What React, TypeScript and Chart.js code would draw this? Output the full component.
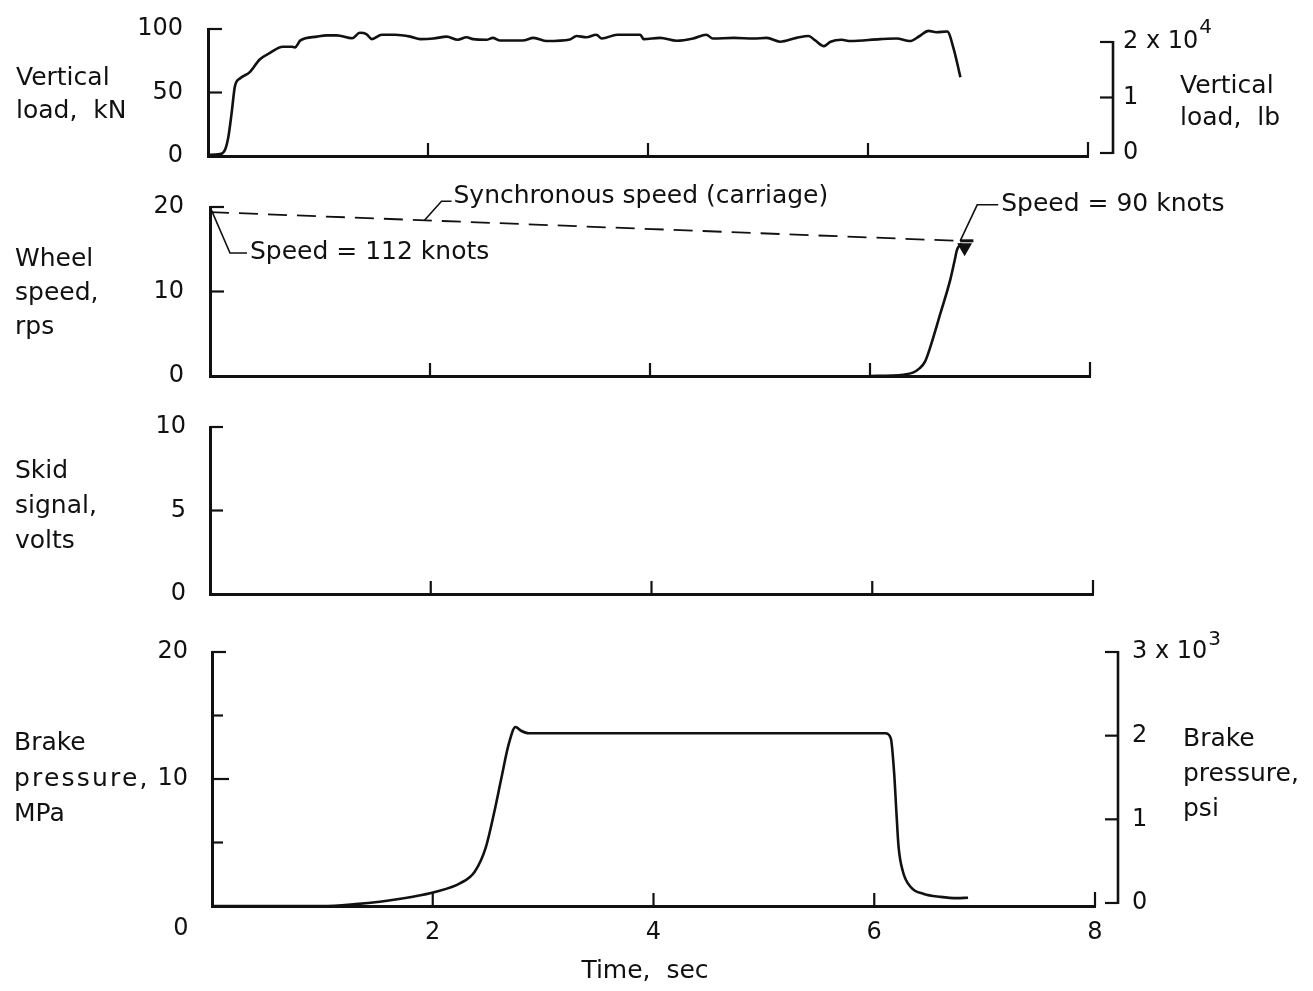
import React, { useEffect, useRef } from "react";
import { Chart, registerables } from "chart.js";
Chart.register(...registerables);

const W = 1313;
const H = 991;
const FONT = "'DejaVu Sans', 'Liberation Sans', sans-serif";
const INK = "#111";

// ---- shared time axis ----
const timeTicks = [0, 2, 4, 6, 8];
const timeTickLabels = ["", "2", "4", "6", "8"];

// ---- panel 1: vertical load ----
const loadTime = [0, 0.11, 0.155, 0.185, 0.215, 0.245, 0.29, 0.38, 0.47, 0.56, 0.68, 0.76, 0.79, 0.84, 0.99, 1.08, 1.17, 1.31, 1.38, 1.44, 1.49, 1.58, 1.7, 1.84, 1.93, 2.05, 2.17, 2.27, 2.35, 2.41, 2.53, 2.59, 2.65, 2.86, 2.96, 3.08, 3.29, 3.35, 3.44, 3.53, 3.58, 3.72, 3.93, 3.96, 4.11, 4.26, 4.41, 4.53, 4.59, 4.78, 4.96, 5.08, 5.2, 5.35, 5.46, 5.52, 5.6, 5.66, 5.76, 5.84, 6.11, 6.26, 6.38, 6.47, 6.55, 6.62, 6.72, 6.78, 6.84];
const loadKN = [1, 1.5, 5, 15, 34, 55, 61, 66, 76, 81, 86, 86, 85.5, 91, 94, 95, 95, 92.7, 97, 96, 92, 95.5, 95.5, 94, 92, 92.5, 94, 91.5, 93.5, 92, 91.5, 93, 91, 91, 93, 90.5, 91.7, 94.5, 93.5, 95.5, 92.5, 95.5, 95.5, 92, 93, 90.7, 92.5, 95.5, 92.5, 93, 92.5, 93, 90, 93, 94.5, 91, 86.5, 90, 91.5, 90.5, 92, 92.5, 90.5, 94.5, 98.5, 97.5, 98, 84, 62];
const loadTicksKN = [0, 50, 100];
const loadTicksLb = [0, 1, 2];
const loadTickLabelsLb = ["0", "1", "2 x 10"];

// ---- panel 2: wheel speed ----
const wheelTime = [6.0, 6.2, 6.3, 6.39, 6.45, 6.5, 6.55, 6.64, 6.73, 6.77, 6.79, 6.83];
const wheelRps = [0, 0.05, 0.15, 0.4, 0.9, 1.7, 3.5, 7.4, 11.4, 13.7, 14.9, 15.7];
const syncTime = [0, 6.79];
const syncRps = [19.4, 16.0];
const flagTime = [6.82, 6.94];
const flagRps = [16.0, 16.0];
const markerTime = [6.86];
const markerRps = [15.2];
const wheelTicks = [0, 10, 20];

// ---- panel 3: skid signal ----
const skidTicks = [0, 5, 10];

// ---- panel 4: brake pressure ----
const brakeTime = [0, 1.0, 1.3, 1.52, 1.82, 2.02, 2.25, 2.38, 2.48, 2.56, 2.62, 2.69, 2.75, 2.8, 2.87, 3.5, 4.5, 5.5, 6.1, 6.15, 6.18, 6.2, 6.22, 6.26, 6.33, 6.45, 6.6, 6.75, 6.85];
const brakeMPa = [0, 0, 0.15, 0.34, 0.73, 1.1, 1.8, 2.7, 4.6, 7.5, 10, 12.8, 14.1, 13.8, 13.6, 13.6, 13.6, 13.6, 13.6, 13.2, 10.5, 7.5, 4.7, 2.7, 1.5, 0.95, 0.72, 0.62, 0.65];
const brakeTicksMPa = [10, 20];
const brakeTicksPsi = [0, 1, 2, 3];
const brakeTickLabelsPsi = ["0", "1", "2", "3 x 10"];

type Area = { left: number; right: number; top: number; bottom: number };
type RightAxis = { min: number; max: number; ticks: number[]; labels: string[]; sup: string; lineX: number; tickLen: number; pad: number; supDy: number };
type Panel = {
  id: string;
  area: Area;
  yMin: number;
  yMax: number;
  yTicks: number[];
  yPad: number;
  yInward: { v: number; len: number }[];
  xInward: { v: number; len: number }[];
  datasets: any[];
  right?: RightAxis;
  xLabels?: boolean;
  xAxisHeight: number;
  extra?: (chart: any, ctx: CanvasRenderingContext2D) => void;
};

const pts = (xs: number[], ys: number[]) => xs.map((x, i) => ({ x, y: ys[i] }));
const lineDs = (data: any[], extra: any = {}) => ({
  data,
  borderColor: INK,
  backgroundColor: INK,
  borderWidth: 2.6,
  pointRadius: 0,
  fill: false,
  cubicInterpolationMode: "monotone",
  yAxisID: "y",
  ...extra,
});

function seg(ctx: CanvasRenderingContext2D, p: number[][]) {
  ctx.beginPath();
  ctx.moveTo(p[0][0], p[0][1]);
  for (let i = 1; i < p.length; i++) ctx.lineTo(p[i][0], p[i][1]);
  ctx.stroke();
}

function label(ctx: CanvasRenderingContext2D, s: string, x: number, y: number, size = 25) {
  ctx.font = `${size}px ${FONT}`;
  ctx.textAlign = "left";
  ctx.textBaseline = "middle";
  ctx.fillStyle = INK;
  ctx.fillText(s, x, y);
}

const wheelAnnotations = (chart: any, ctx: CanvasRenderingContext2D) => {
  const xs = chart.scales.x;
  const ys = chart.scales.y;
  ctx.lineWidth = 1.6;
  ctx.strokeStyle = INK;
  // Speed = 112 knots (start of synchronous line)
  const ax = xs.getPixelForValue(syncTime[0]);
  const ay = ys.getPixelForValue(syncRps[0]);
  seg(ctx, [[ax + 1, ay - 3], [ax + 20, ay + 41], [ax + 37, ay + 41]]);
  label(ctx, "Speed = 112 knots", ax + 40, ay + 40);
  // Synchronous speed (carriage)
  const st = 1.95;
  const sv = syncRps[0] + ((syncRps[1] - syncRps[0]) * (st - syncTime[0])) / (syncTime[1] - syncTime[0]);
  const bx = xs.getPixelForValue(st);
  const by = ys.getPixelForValue(sv);
  seg(ctx, [[bx, by], [bx + 17, by - 19], [bx + 27, by - 19]]);
  label(ctx, "Synchronous speed (carriage)", bx + 29, by - 24);
  // Speed = 90 knots
  const cx = xs.getPixelForValue(flagTime[0]);
  const cy = ys.getPixelForValue(flagRps[0]);
  seg(ctx, [[cx, cy], [cx + 17, cy - 36], [cx + 38, cy - 36]]);
  label(ctx, "Speed = 90 knots", cx + 41, cy - 36);
};

const brakeZero = (chart: any, ctx: CanvasRenderingContext2D) => {
  const xs = chart.scales.x;
  const a = chart.chartArea;
  ctx.font = `24px ${FONT}`;
  ctx.textAlign = "center";
  ctx.textBaseline = "middle";
  ctx.fillStyle = INK;
  ctx.fillText("0", xs.getPixelForValue(0) - 31, a.bottom + 23);
};

const stdX = [
  { v: 2, len: 13 },
  { v: 4, len: 13 },
  { v: 6, len: 13 },
  { v: 8, len: 14 },
];

const panels: Panel[] = [
  {
    id: "load",
    area: { left: 208, right: 1088, top: 29, bottom: 156 },
    yMin: 0,
    yMax: 100,
    yTicks: loadTicksKN,
    yPad: 25,
    yInward: [
      { v: 50, len: 14 },
      { v: 100, len: 14 },
    ],
    xInward: stdX,
    datasets: [lineDs(pts(loadTime, loadKN))],
    right: { min: -0.054, max: 2.234, ticks: loadTicksLb, labels: loadTickLabelsLb, sup: "4", lineX: 1113, tickLen: 13, pad: 35, supDy: -14 },
    xAxisHeight: 0,
  },
  {
    id: "wheel",
    area: { left: 210, right: 1090, top: 207, bottom: 376 },
    yMin: 0,
    yMax: 20,
    yTicks: wheelTicks,
    yPad: 26,
    yInward: [
      { v: 10, len: 14 },
      { v: 20, len: 14 },
    ],
    xInward: stdX,
    datasets: [
      lineDs(pts(syncTime, syncRps), { borderWidth: 1.8, borderDash: [19, 10], cubicInterpolationMode: "default", tension: 0 }),
      lineDs(pts(wheelTime, wheelRps)),
      lineDs(pts(flagTime, flagRps), { borderWidth: 3, tension: 0, cubicInterpolationMode: "default" }),
      lineDs(pts(markerTime, markerRps), { showLine: false, pointRadius: 6, pointStyle: "triangle", rotation: 180 }),
    ],
    xAxisHeight: 0,
    extra: wheelAnnotations,
  },
  {
    id: "skid",
    area: { left: 210, right: 1093, top: 427, bottom: 594 },
    yMin: 0,
    yMax: 10,
    yTicks: skidTicks,
    yPad: 24,
    yInward: [
      { v: 5, len: 13 },
      { v: 10, len: 13 },
    ],
    xInward: stdX,
    datasets: [],
    xAxisHeight: 0,
  },
  {
    id: "brake",
    area: { left: 212, right: 1095, top: 652, bottom: 906 },
    yMin: 0,
    yMax: 20,
    yTicks: brakeTicksMPa,
    yPad: 24,
    yInward: [
      { v: 5, len: 11 },
      { v: 10, len: 17 },
      { v: 15, len: 11 },
      { v: 20, len: 14 },
    ],
    xInward: stdX,
    datasets: [lineDs(pts(brakeTime, brakeMPa))],
    right: { min: -0.036, max: 3, ticks: brakeTicksPsi, labels: brakeTickLabelsPsi, sup: "3", lineX: 1118, tickLen: 13, pad: 37, supDy: -12 },
    xLabels: true,
    xAxisHeight: 60,
    extra: brakeZero,
  },
];

function buildConfig(p: Panel): any {
  const tickFont = { family: FONT, size: 24 };
  const scales: any = {
    x: {
      type: "linear",
      min: 0,
      max: 8,
      grid: { display: false, drawTicks: false },
      border: { display: true, color: INK, width: 3 },
      ticks: p.xLabels
        ? {
            display: true,
            padding: 12,
            color: INK,
            font: tickFont,
            maxRotation: 0,
            autoSkip: false,
            callback: (v: number) => timeTickLabels[timeTicks.indexOf(v)] ?? "",
          }
        : { display: false },
      afterBuildTicks: (s: any) => {
        s.ticks = timeTicks.map((value) => ({ value }));
      },
      afterFit: (s: any) => {
        s.height = p.xAxisHeight;
        s.paddingLeft = 0;
        s.paddingRight = 0;
      },
    },
    y: {
      type: "linear",
      position: "left",
      min: p.yMin,
      max: p.yMax,
      grid: { display: false, drawTicks: false },
      border: { display: true, color: INK, width: 3 },
      ticks: { padding: p.yPad, color: INK, font: tickFont, autoSkip: false },
      afterBuildTicks: (s: any) => {
        s.ticks = p.yTicks.map((value) => ({ value }));
      },
      afterFit: (s: any) => {
        s.width = p.area.left;
        s.paddingTop = 0;
        s.paddingBottom = 0;
      },
    },
  };
  if (p.right) {
    const r = p.right;
    scales.yR = {
      type: "linear",
      position: "right",
      min: r.min,
      max: r.max,
      grid: { display: false, drawTicks: false },
      border: { display: false },
      ticks: {
        padding: r.pad,
        color: INK,
        font: tickFont,
        autoSkip: false,
        callback: (v: number) => r.labels[r.ticks.indexOf(v)] ?? "",
      },
      afterBuildTicks: (s: any) => {
        s.ticks = r.ticks.map((value) => ({ value }));
      },
      afterFit: (s: any) => {
        s.width = W - p.area.right;
        s.paddingTop = 0;
        s.paddingBottom = 0;
      },
    };
  }

  const deco = {
    id: "deco_" + p.id,
    afterDraw(chart: any) {
      const ctx: CanvasRenderingContext2D = chart.ctx;
      const a = chart.chartArea;
      const xs = chart.scales.x;
      const ys = chart.scales.y;
      ctx.save();
      ctx.strokeStyle = INK;
      ctx.lineCap = "butt";
      ctx.lineWidth = 2.2;
      for (const t of p.yInward) {
        const y = ys.getPixelForValue(t.v);
        seg(ctx, [[a.left, y], [a.left + t.len, y]]);
      }
      for (const t of p.xInward) {
        const x = xs.getPixelForValue(t.v);
        seg(ctx, [[x, a.bottom], [x, a.bottom - t.len]]);
      }
      if (p.right) {
        const r = p.right;
        const yr = chart.scales.yR;
        const y0 = yr.getPixelForValue(r.ticks[0]);
        const y1 = yr.getPixelForValue(r.ticks[r.ticks.length - 1]);
        ctx.lineWidth = 2.6;
        seg(ctx, [[r.lineX, y0 + 1], [r.lineX, y1 - 1]]);
        ctx.lineWidth = 2.2;
        for (const v of r.ticks) {
          const y = yr.getPixelForValue(v);
          seg(ctx, [[r.lineX - r.tickLen, y], [r.lineX, y]]);
        }
        const topLabel = r.labels[r.labels.length - 1];
        ctx.font = `24px ${FONT}`;
        const w = ctx.measureText(topLabel).width;
        label(ctx, r.sup, yr.left + r.pad + w + 1, y1 + r.supDy, 20);
      }
      if (p.extra) p.extra(chart, ctx);
      ctx.restore();
    },
  };

  return {
    type: "line",
    data: { datasets: p.datasets },
    options: {
      responsive: false,
      animation: false,
      events: [],
      layout: {
        padding: {
          left: 0,
          right: p.right ? 0 : W - p.area.right,
          top: p.area.top,
          bottom: H - p.area.bottom - p.xAxisHeight,
        },
      },
      plugins: { legend: { display: false }, tooltip: { enabled: false }, title: { display: false } },
      scales,
    },
    plugins: [deco],
  };
}

function PanelChart({ panel }: { panel: Panel }) {
  const ref = useRef<HTMLCanvasElement | null>(null);
  useEffect(() => {
    if (!ref.current) return;
    const chart = new Chart(ref.current, buildConfig(panel));
    return () => chart.destroy();
  }, [panel]);
  return (
    <canvas
      ref={ref}
      width={W}
      height={H}
      style={{ position: "absolute", left: 0, top: 0, width: W, height: H, pointerEvents: "none" }}
    />
  );
}

type TitleBlock = { left: number; top: number; lh: number; lines: (string | { text: string; spacing: number })[]; width?: number; center?: boolean };

const titles: TitleBlock[] = [
  { left: 16, top: 60, lh: 33, lines: ["Vertical", "load,  kN"] },
  { left: 1180, top: 69, lh: 32, lines: ["Vertical", "load,  lb"] },
  { left: 15, top: 241, lh: 34, lines: ["Wheel", "speed,", "rps"] },
  { left: 15, top: 452, lh: 35, lines: ["Skid", "signal,", "volts"] },
  { left: 14, top: 724, lh: 35.5, lines: ["Brake", { text: "pressure,", spacing: 2.2 }, "MPa"] },
  { left: 1183, top: 720, lh: 35, lines: ["Brake", "pressure,", "psi"] },
  { left: 495, top: 953, lh: 34, lines: ["Time,  sec"], width: 300, center: true },
];

export default function App() {
  return (
    <div style={{ position: "absolute", left: 0, top: 0, width: W, height: H, background: "#fff", overflow: "hidden" }}>
      {panels.map((p) => (
        <PanelChart key={p.id} panel={p} />
      ))}
      {titles.map((t, i) => (
        <div
          key={i}
          style={{
            position: "absolute",
            left: t.left,
            top: t.top,
            width: t.width,
            textAlign: t.center ? "center" : "left",
            lineHeight: `${t.lh}px`,
            fontSize: 25,
            fontFamily: FONT,
            color: INK,
            whiteSpace: "pre",
          }}
        >
          {t.lines.map((l, j) =>
            typeof l === "string" ? (
              <div key={j}>{l}</div>
            ) : (
              <div key={j} style={{ letterSpacing: l.spacing }}>
                {l.text}
              </div>
            )
          )}
        </div>
      ))}
    </div>
  );
}
